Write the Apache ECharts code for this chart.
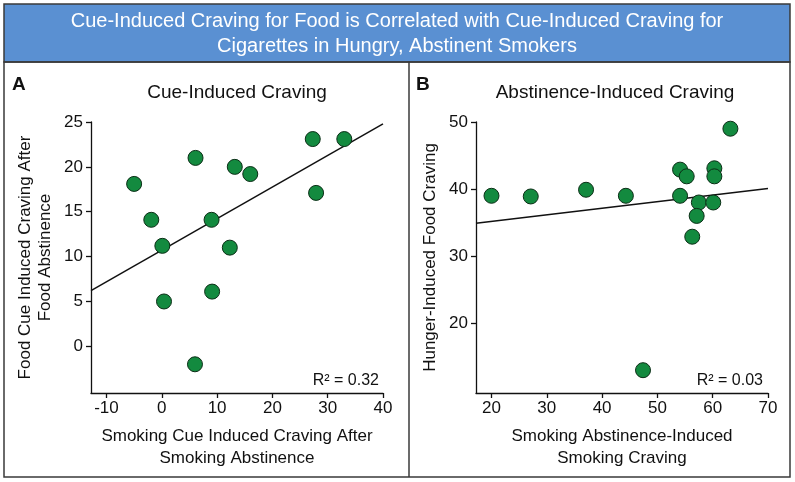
<!DOCTYPE html>
<html>
<head>
<meta charset="utf-8">
<script src="https://cdn.jsdelivr.net/npm/echarts@6/dist/echarts.min.js"></script>
<style>html,body{margin:0;padding:0;background:#fff}#c{width:795px;height:482px}</style>
</head>
<body>
<div id="c"></div>
<script>
// ---- Data ----
const titleText = 'Cue-Induced Craving for Food is Correlated with Cue-Induced Craving for\nCigarettes in Hungry, Abstinent Smokers';
const panelATitle = 'Cue-Induced Craving';
const panelBTitle = 'Abstinence-Induced Craving';
const panelAX = [-5.0, -1.9, 0.1, 0.4, 6.1, 6.0, 9.0, 9.1, 12.3, 13.2, 16.0, 27.3, 27.9, 30.1, 33.0];
const panelAY = [18.1, 14.1, 11.2, 5.0, 21.0, -2.0, 14.1, 6.1, 11.0, 20.0, 19.2, 23.1, 17.1, 25.1, 23.1];
const panelBX = [20.0, 27.1, 37.1, 44.3, 54.1, 55.3, 54.1, 57.5, 57.1, 56.3, 60.3, 60.3, 60.1, 63.2, 47.4];
const panelBY = [39.0, 38.9, 39.9, 39.0, 42.9, 41.9, 39.0, 38.0, 36.0, 32.9, 43.1, 41.9, 38.0, 49.0, 13.0];
const fitAX = [-12.8, 40];
const fitAY = [6.2, 24.8];
const fitBX = [17.2, 70];
const fitBY = [34.9, 40.1];
const xTicksA = [-10, 0, 10, 20, 30, 40];
const yTicksA = [0, 5, 10, 15, 20, 25];
const xTicksB = [20, 30, 40, 50, 60, 70];
const yTicksB = [20, 30, 40, 50];
const r2A = 'R² = 0.32';
const r2B = 'R² = 0.03';
const xNameA = 'Smoking Cue Induced Craving After\nSmoking Abstinence';
const yNameA = 'Food Cue Induced Craving After\nFood Abstinence';
const xNameB = 'Smoking Abstinence-Induced\nSmoking Craving';
const yNameB = 'Hunger-Induced Food Craving';

// ---- Build ----
const FONT = '"Liberation Sans", Arial, sans-serif';
const zip = (xs, ys) => xs.map((x, i) => [x, ys[i]]);
const chart = echarts.init(document.getElementById('c'), null, {renderer: 'canvas'});

function xAxis(idx, min, max, ticks, name) {
  return {
    type: 'value', gridIndex: idx, min: min, max: max,
    splitLine: {show: false},
    axisLine: {show: true, onZero: false, lineStyle: {color: '#111', width: 1.3}},
    axisTick: {show: true, customValues: ticks, length: 5, lineStyle: {color: '#111', width: 1.3}},
    axisLabel: {customValues: ticks, color: '#111', fontSize: 17, fontFamily: FONT, margin: 7},
    name: name, nameLocation: 'middle', nameGap: 32,
    nameTextStyle: {color: '#111', fontSize: 17, fontFamily: FONT, lineHeight: 22}
  };
}
function yAxis(idx, min, max, ticks, name, gap) {
  return {
    type: 'value', gridIndex: idx, min: min, max: max,
    splitLine: {show: false},
    axisLine: {show: true, onZero: false, lineStyle: {color: '#111', width: 1.3}},
    axisTick: {show: true, customValues: ticks, length: 5, lineStyle: {color: '#111', width: 1.3}},
    axisLabel: {customValues: ticks, color: '#111', fontSize: 17, fontFamily: FONT, margin: 8},
    name: name, nameLocation: 'middle', nameGap: gap, nameRotate: 90,
    nameTextStyle: {color: '#111', fontSize: 17, fontFamily: FONT, lineHeight: 20}
  };
}
const pointStyle = {color: '#138a3f', borderColor: '#0b2e16', borderWidth: 1, opacity: 1};

chart.setOption({
  animation: false,
  backgroundColor: '#fff',
  grid: [
    {left: 91, top: 122, width: 292, height: 271},
    {left: 476, top: 122, width: 292, height: 271}
  ],
  xAxis: [
    xAxis(0, -12.8, 40, xTicksA, xNameA),
    xAxis(1, 17.2, 70, xTicksB, xNameB)
  ],
  yAxis: [
    yAxis(0, -5.2, 25, yTicksA, yNameA, 36),
    yAxis(1, 9.6, 50, yTicksB, yNameB, 36)
  ],
  series: [
    {type: 'line', xAxisIndex: 0, yAxisIndex: 0, data: zip(fitAX, fitAY), showSymbol: false, symbol: 'none',
     lineStyle: {color: '#111', width: 1.5}, z: 1},
    {type: 'scatter', xAxisIndex: 0, yAxisIndex: 0, data: zip(panelAX, panelAY), symbolSize: 15, itemStyle: pointStyle, z: 2},
    {type: 'line', xAxisIndex: 1, yAxisIndex: 1, data: zip(fitBX, fitBY), showSymbol: false, symbol: 'none',
     lineStyle: {color: '#111', width: 1.5}, z: 1},
    {type: 'scatter', xAxisIndex: 1, yAxisIndex: 1, data: zip(panelBX, panelBY), symbolSize: 15, itemStyle: pointStyle, z: 2}
  ],
  graphic: [
    {type: 'rect', shape: {x: 4, y: 4, width: 786, height: 58}, style: {fill: '#5a90d2', stroke: '#3a3a3a', lineWidth: 1.5}, z: 0},
    {type: 'text', x: 397, y: 34, style: {text: titleText, fill: '#fff', font: '20px ' + FONT, align: 'center', verticalAlign: 'middle', lineHeight: 25}, z: 1},
    {type: 'rect', shape: {x: 4, y: 62, width: 786, height: 415}, style: {fill: 'none', stroke: '#3a3a3a', lineWidth: 1.5}, z: 0},
    {type: 'line', shape: {x1: 409, y1: 62, x2: 409, y2: 477}, style: {stroke: '#3a3a3a', lineWidth: 1.5}, z: 0},
    {type: 'text', x: 12, y: 75, style: {text: 'A', fill: '#111', font: 'bold 19px ' + FONT}},
    {type: 'text', x: 416, y: 75, style: {text: 'B', fill: '#111', font: 'bold 19px ' + FONT}},
    {type: 'text', x: 237, y: 93, style: {text: panelATitle, fill: '#111', font: '19px ' + FONT, align: 'center', verticalAlign: 'middle'}},
    {type: 'text', x: 615, y: 93, style: {text: panelBTitle, fill: '#111', font: '19px ' + FONT, align: 'center', verticalAlign: 'middle'}},
    {type: 'text', x: 379, y: 381, style: {text: r2A, fill: '#111', font: '16px ' + FONT, align: 'right', verticalAlign: 'middle'}},
    {type: 'text', x: 763, y: 381, style: {text: r2B, fill: '#111', font: '16px ' + FONT, align: 'right', verticalAlign: 'middle'}}
  ]
});
</script>
</body>
</html>
